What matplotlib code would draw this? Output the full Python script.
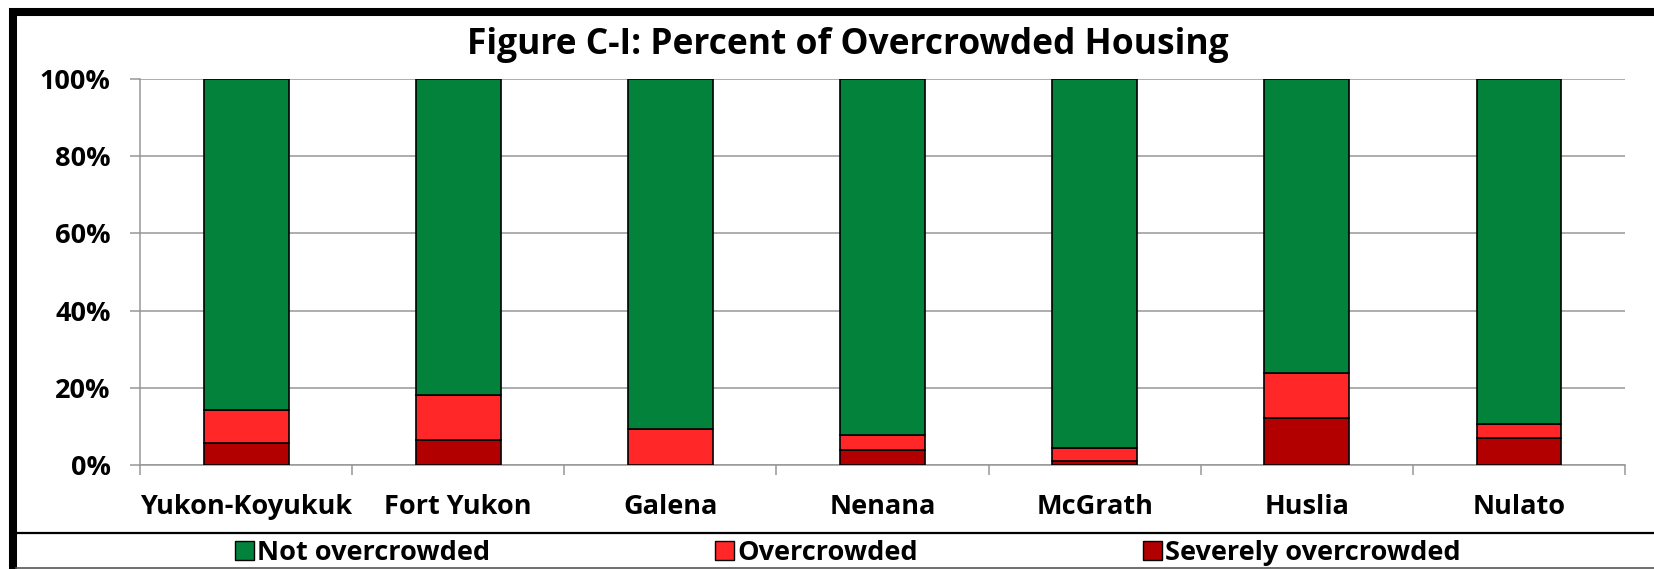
import matplotlib
matplotlib.use("Agg")
import matplotlib.pyplot as plt
import numpy as np
from matplotlib.patches import Patch
from matplotlib.lines import Line2D

# data (percent of housing units)
places = ["Yukon-Koyukuk", "Fort Yukon", "Galena", "Nenana", "McGrath", "Huslia", "Nulato"]
severely = [5.7, 6.5, 0.0, 3.9, 1.1, 12.3, 7.0]
overcrowded = [8.6, 11.6, 9.2, 4.0, 3.2, 11.5, 3.6]
not_overcrowded = [85.7, 81.9, 90.8, 92.1, 95.7, 76.2, 89.4]

series_names = ["Not overcrowded", "Overcrowded", "Severely overcrowded"]
y_ticks = [0, 20, 40, 60, 80, 100]
y_tick_labels = ["0%", "20%", "40%", "60%", "80%", "100%"]

GREEN = "#03823C"
RED = "#FF2727"
DARK_RED = "#B20000"
GRID = "#979797"

plt.rcParams['font.family'] = ['Open Sans', 'DejaVu Sans']
plt.rcParams['font.weight'] = 'bold'

W, H = 1654, 569
fig = plt.figure(figsize=(W / 100, H / 100), dpi=100)
ax = fig.add_axes([140 / W, 1 - 465 / H, (1625 - 140) / W, (465 - 79) / H])

x = np.arange(len(places))
sev = np.asarray(severely)
ovr = np.asarray(overcrowded)
nov = np.asarray(not_overcrowded)

bw = 0.4
ax.bar(x, sev, bw, color=DARK_RED, edgecolor="black", linewidth=1.2, zorder=3)
ax.bar(x, ovr, bw, bottom=sev, color=RED, edgecolor="black", linewidth=1.2, zorder=3)
ax.bar(x, nov, bw, bottom=sev + ovr, color=GREEN, edgecolor="black", linewidth=1.2, zorder=3)

ax.set_xlim(-0.5, len(places) - 0.5)
ax.set_ylim(0, 100)
ax.set_yticks(y_ticks)
ax.set_yticklabels(y_tick_labels, fontsize=19.5, fontweight="bold")
ax.yaxis.grid(True, color=GRID, linewidth=1.1, zorder=0)

# category boundaries get the tick marks, the names sit in between
ax.set_xticks(np.arange(-0.5, len(places), 1))
ax.set_xticklabels([])
ax.set_xticks(x, minor=True)
ax.set_xticklabels(places, minor=True, fontsize=19.5, fontweight="bold")
ax.tick_params(axis="x", which="major", length=7.2, width=1.1, color=GRID)
ax.tick_params(axis="x", which="minor", length=0, pad=21)
ax.tick_params(axis="y", length=7.2, width=1.1, color=GRID, pad=14)

for s in ["top", "right"]:
    ax.spines[s].set_visible(False)
for s in ["left", "bottom"]:
    ax.spines[s].set_color(GRID)
    ax.spines[s].set_linewidth(1.1)

fig.text(848 / W, 1 - 54 / H, "Figure C-I: Percent of Overcrowded Housing",
         ha="center", va="baseline", fontsize=25.5, fontweight="bold")

handles = [Patch(facecolor=GREEN, edgecolor="black"),
           Patch(facecolor=RED, edgecolor="black"),
           Patch(facecolor=DARK_RED, edgecolor="black")]
fig.legend(handles, series_names, ncol=3, loc="center", bbox_to_anchor=(848 / W, 1 - 553 / H),
           frameon=False, fontsize=19.5, handlelength=0.7, handleheight=0.67,
           handletextpad=0.12, columnspacing=8.3, borderpad=0, borderaxespad=0)

# outer frame (left and top edges show) and the legend strip lines
fig.add_artist(Line2D([12.5 / W, 12.5 / W], [0, 1 - 8.5 / H], color="black", linewidth=5.8,
                      transform=fig.transFigure, solid_capstyle="butt"))
fig.add_artist(Line2D([9 / W, 1], [1 - 12 / H, 1 - 12 / H], color="black", linewidth=5.8,
                      transform=fig.transFigure, solid_capstyle="butt"))
fig.add_artist(Line2D([16 / W, 1], [1 - 533 / H, 1 - 533 / H], color="black", linewidth=1.6,
                      transform=fig.transFigure))
fig.add_artist(Line2D([16 / W, 1], [1 - 568 / H, 1 - 568 / H], color="#555555", linewidth=1.2,
                      transform=fig.transFigure))

fig.savefig("out.png", dpi=100)
